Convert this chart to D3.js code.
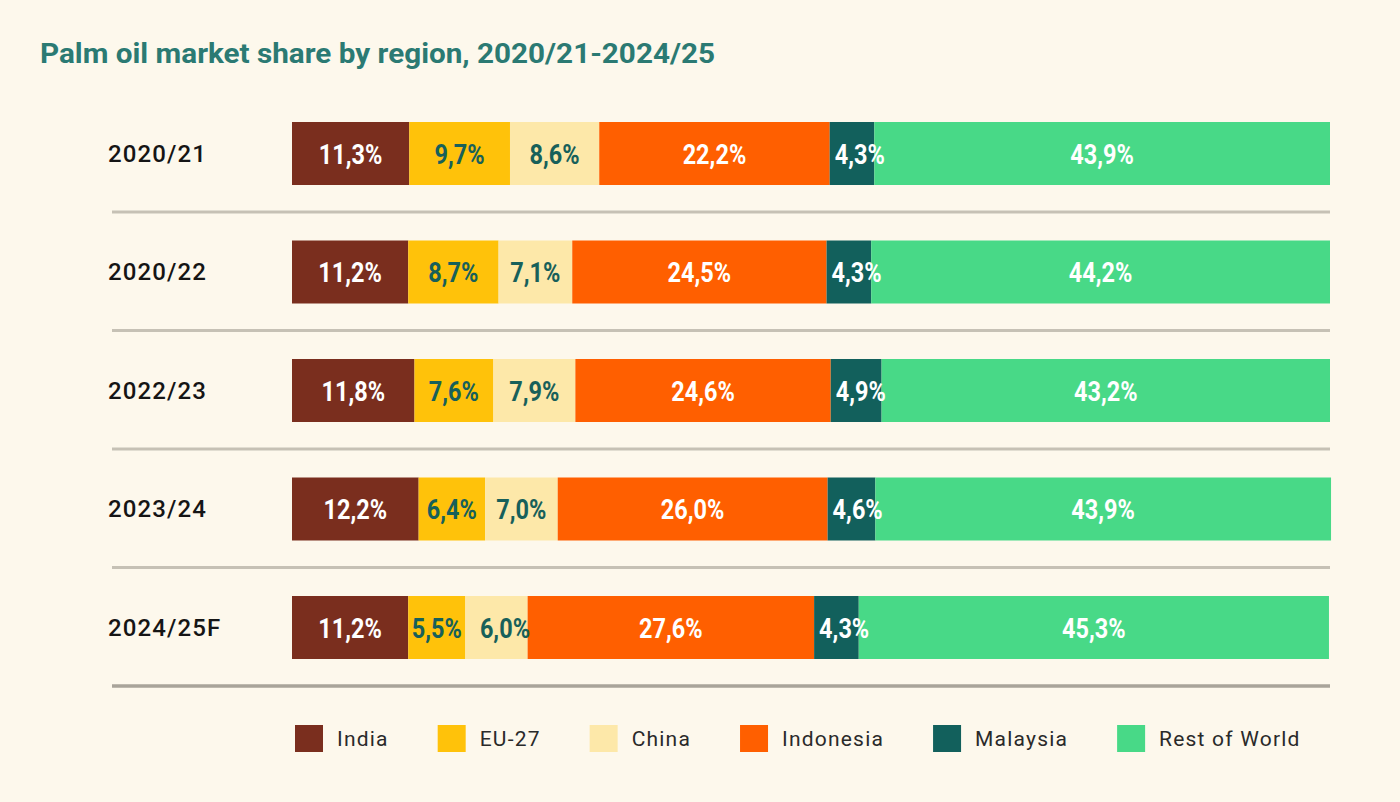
<!DOCTYPE html>
<html>
<head>
<meta charset="utf-8">
<script src="https://cdn.jsdelivr.net/npm/d3@7"></script>
<style>
  html, body { margin: 0; padding: 0; background: #fdf8ec; }
  svg { display: block; }
</style>
</head>
<body>
<svg id="chart" width="1400" height="802"></svg>
<script>
const years = ['2020/21', '2020/22', '2022/23', '2023/24', '2024/25F'];
const regions = ['India', 'EU-27', 'China', 'Indonesia', 'Malaysia', 'Rest of World'];
const india     = [11.3, 11.2, 11.8, 12.2, 11.2];
const eu27      = [9.7, 8.7, 7.6, 6.4, 5.5];
const china     = [8.6, 7.1, 7.9, 7.0, 6.0];
const indonesia = [22.2, 24.5, 24.6, 26.0, 27.6];
const malaysia  = [4.3, 4.3, 4.9, 4.6, 4.3];
const restWorld = [43.9, 44.2, 43.2, 43.9, 45.3];

const colors = ['#7a2e1e', '#ffc20a', '#fde8a9', '#ff5f00', '#12605c', '#48d987'];
const labelColors = ['#ffffff', '#17605a', '#17605a', '#ffffff', '#ffffff', '#ffffff'];

const series = [india, eu27, china, indonesia, malaysia, restWorld];
const rows = years.map((y, i) => {
  const r = { year: y };
  regions.forEach((reg, j) => { r[reg] = series[j][i]; });
  return r;
});

const svg = d3.select('#chart');

svg.append('text')
  .attr('x', 40)
  .attr('y', 63)
  .attr('fill', '#2b7a73')
  .attr('font-family', 'Roboto, "Liberation Sans", sans-serif')
  .attr('font-weight', 700)
  .attr('font-size', 27)
  .attr('textLength', 675)
  .attr('lengthAdjust', 'spacingAndGlyphs')
  .text('Palm oil market share by region, 2020/21-2024/25');

const x = d3.scaleLinear().domain([0, 100]).range([292, 1330]);
const y = d3.scalePoint().domain(years).range([153.5, 627.5]);
const barH = 63;

const stacked = d3.stack().keys(regions)(rows);

// separators below each row
svg.append('g').selectAll('line').data(years).join('line')
  .attr('x1', 112)
  .attr('x2', 1330)
  .attr('y1', d => y(d) + 58.5)
  .attr('y2', d => y(d) + 58.5)
  .attr('stroke', (d, i) => i === years.length - 1 ? '#a9a49a' : '#c6c1b5')
  .attr('stroke-width', (d, i) => i === years.length - 1 ? 3.5 : 3);

// row labels
svg.append('g').selectAll('text').data(years).join('text')
  .attr('x', 108)
  .attr('y', d => y(d))
  .attr('dy', '0.35em')
  .attr('fill', '#151515')
  .attr('font-family', 'Roboto, "Liberation Sans", sans-serif')
  .attr('font-weight', 500)
  .attr('font-size', 24)
  .attr('letter-spacing', 1.1)
  .text(d => d);

const layers = svg.append('g').selectAll('g').data(stacked).join('g')
  .attr('fill', (d, i) => colors[i]);

layers.selectAll('rect').data(d => d).join('rect')
  .attr('x', d => x(d[0]))
  .attr('width', d => x(d[1]) - x(d[0]))
  .attr('y', d => y(d.data.year) - barH / 2)
  .attr('height', barH);

// value labels (condensed by a horizontal scale, no narrow font installed)
const squeeze = 0.84;
const labels = svg.append('g');
years.forEach((yr, r) => {
  let lastEnd = -Infinity;
  stacked.forEach((layer, i) => {
    const d = layer[r];
    const x0 = x(d[0]), x1 = x(d[1]);
    const g = labels.append('g');
    const t = g.append('text')
      .attr('dy', '0.36em')
      .attr('fill', labelColors[i])
      .attr('font-family', 'Roboto, "Liberation Sans", sans-serif')
      .attr('font-weight', 700)
      .attr('font-size', 28)
      .text(d3.format('.1f')(d[1] - d[0] + 1e-9).replace('.', ',') + '%');
    const w = t.node().getComputedTextLength() * squeeze;
    let start = w > x1 - x0 - 4 ? x0 + 5 : (x0 + x1) / 2 - w / 2;
    if (start < lastEnd + 18) start = lastEnd + 18;
    lastEnd = start + w;
    g.attr('transform', `translate(${start},${y(yr)}) scale(${squeeze},1)`);
  });
});

// legend
const legend = svg.append('g');
let lx = 295;
regions.forEach((reg, i) => {
  legend.append('rect')
    .attr('x', lx)
    .attr('y', 725)
    .attr('width', 28)
    .attr('height', 27)
    .attr('fill', colors[i]);
  const t = legend.append('text')
    .attr('x', lx + 42)
    .attr('y', 738.5)
    .attr('dy', '0.35em')
    .attr('fill', '#2a2a2a')
    .attr('font-family', 'Roboto, "Liberation Sans", sans-serif')
    .attr('font-size', 21)
    .attr('letter-spacing', 1.2)
    .text(reg);
  lx += 42 + t.node().getComputedTextLength() + 49;
});
</script>
</body>
</html>
